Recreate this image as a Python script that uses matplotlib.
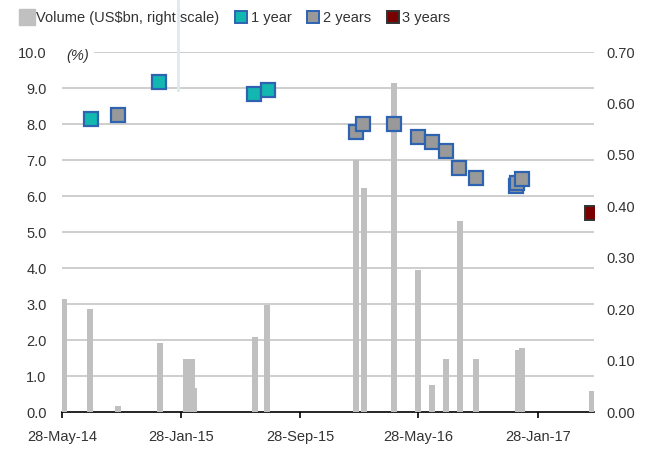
import matplotlib
matplotlib.use("Agg")
import matplotlib.pyplot as plt
import matplotlib.dates as mdates
import numpy as np
import pandas as pd
from matplotlib.lines import Line2D

plt.rcParams['font.family'] = ['Liberation Sans', 'DejaVu Sans']

# Issue volumes (US$bn, right scale)
vol_dates = ["2014-05-31", "2014-07-24", "2014-09-20", "2014-12-15", "2015-02-06",
             "2015-02-19", "2015-02-23", "2015-06-28", "2015-07-22", "2016-01-21",
             "2016-02-06", "2016-04-08", "2016-05-27", "2016-06-25", "2016-07-24",
             "2016-08-21", "2016-09-23", "2016-12-18", "2016-12-27", "2017-05-19"]
vol_values = [0.22, 0.20, 0.012, 0.135, 0.103,
              0.103, 0.047, 0.146, 0.208, 0.49,
              0.436, 0.64, 0.276, 0.053, 0.103,
              0.372, 0.103, 0.12, 0.125, 0.041]

# Yields (%) by tenor
y1_dates = ["2014-07-26", "2014-12-13", "2015-06-26", "2015-07-24"]
y1_values = [8.14, 9.17, 8.83, 8.94]

y2_dates = ["2014-09-19", "2016-01-20", "2016-02-04", "2016-04-08", "2016-05-27",
            "2016-06-24", "2016-07-23", "2016-08-19", "2016-09-24", "2016-12-15",
            "2016-12-17", "2016-12-26"]
y2_values = [8.25, 7.78, 8.0, 8.0, 7.64,
             7.5, 7.25, 6.78, 6.5, 6.28,
             6.35, 6.47]

y3_dates = ["2017-05-19"]
y3_values = [5.53]

x_ticks = ["2014-05-28", "2015-01-28", "2015-09-28", "2016-05-28", "2017-01-28"]
x_range = ["2014-05-28", "2017-05-23"]

TEAL = "#12B7B0"
BLUE_EDGE = "#2E63B2"
GRAY_FILL = "#999999"
DARK_RED = "#7A0000"
BAR_GRAY = "#C0C0C0"
GRID = "#CACACA"
TXT = "#333333"
FS = 10.5

fig = plt.figure(figsize=(6.52, 4.5), dpi=100)
pos = [62 / 652, 38 / 450, (594 - 62) / 652, 360 / 450]

axL = fig.add_axes(pos)
axR = axL.twinx()
axM = fig.add_axes(pos, sharex=axL, sharey=axL)

xr = pd.to_datetime(x_range)
axL.set_xlim(xr[0], xr[1])
axL.set_ylim(0, 10)
axR.set_ylim(0, 0.70)

# Grid on the bottom layer so bars sit on top of it
for v in np.arange(1, 10.01, 1):
    xmin = 0.062 if v == 10 else 0
    axL.axhline(v, color=GRID, lw=1.3, xmin=xmin, zorder=0)

# Volume bars
axR.bar(pd.to_datetime(vol_dates), vol_values, width=13, color=BAR_GRAY,
        edgecolor="none", zorder=2)

# Yield markers
msz = 10.5
axM.plot(pd.to_datetime(y1_dates), y1_values, ls="none", marker="s", ms=msz,
         mfc=TEAL, mec=BLUE_EDGE, mew=1.6, zorder=5)
axM.plot(pd.to_datetime(y2_dates), y2_values, ls="none", marker="s", ms=msz,
         mfc=GRAY_FILL, mec=BLUE_EDGE, mew=1.6, zorder=5)
axM.plot(pd.to_datetime(y3_dates), y3_values, ls="none", marker="s", ms=msz,
         mfc=DARK_RED, mec="#333333", mew=1.4, zorder=5)
axM.set_axis_off()
axM.patch.set_visible(False)

# Axes styling
for a in (axL, axR):
    for s in ("top", "left", "right"):
        a.spines[s].set_visible(False)
axL.spines["bottom"].set_color("black")
axL.spines["bottom"].set_linewidth(1.2)
axR.spines["bottom"].set_visible(False)

axL.set_yticks(np.arange(0, 10.01, 1))
axL.set_yticklabels([f"{v:.1f}" for v in np.arange(0, 10.01, 1)])
axR.set_yticks(np.arange(0, 0.701, 0.1))
axR.set_yticklabels([f"{v:.2f}" for v in np.arange(0, 0.701, 0.1)])
axL.tick_params(axis="y", length=0, pad=11, labelsize=FS, labelcolor=TXT)
axR.tick_params(axis="y", length=0, pad=9, labelsize=FS, labelcolor=TXT)

axL.set_xticks(pd.to_datetime(x_ticks))
axL.xaxis.set_major_formatter(mdates.DateFormatter("%d-%b-%y"))
axL.tick_params(axis="x", direction="out", length=4, width=1.2, color="black",
                labelsize=FS, labelcolor=TXT, pad=9)

axL.text(0.008, 0.988, "(%)", transform=axL.transAxes, fontsize=FS,
         style="italic", color=TXT, ha="left", va="center")

# Faint vertical guide near the top
fig.add_artist(Line2D([178 / 652, 178 / 652], [1.0, 1 - 90 / 450],
                      transform=fig.transFigure, color="#DDEBEF", lw=2))

handles = [
    Line2D([], [], ls="none", marker="s", ms=11, mfc=BAR_GRAY, mec=BAR_GRAY),
    Line2D([], [], ls="none", marker="s", ms=8, mfc=TEAL, mec=BLUE_EDGE, mew=1.4),
    Line2D([], [], ls="none", marker="s", ms=8, mfc=GRAY_FILL, mec=BLUE_EDGE, mew=1.4),
    Line2D([], [], ls="none", marker="s", ms=8, mfc=DARK_RED, mec="#333333", mew=1.4),
]
labels = ["Volume (US$bn, right scale)", "1 year", "2 years", "3 years"]
leg = fig.legend(handles, labels, loc="center left", bbox_to_anchor=(21 / 652, 1 - 18 / 450),
                 ncol=4, frameon=False, handlelength=0.8, handletextpad=0.25,
                 columnspacing=1.1, fontsize=FS, borderaxespad=0, borderpad=0)
for t in leg.get_texts():
    t.set_color(TXT)

fig.savefig("out.png", dpi=100, facecolor="white")
